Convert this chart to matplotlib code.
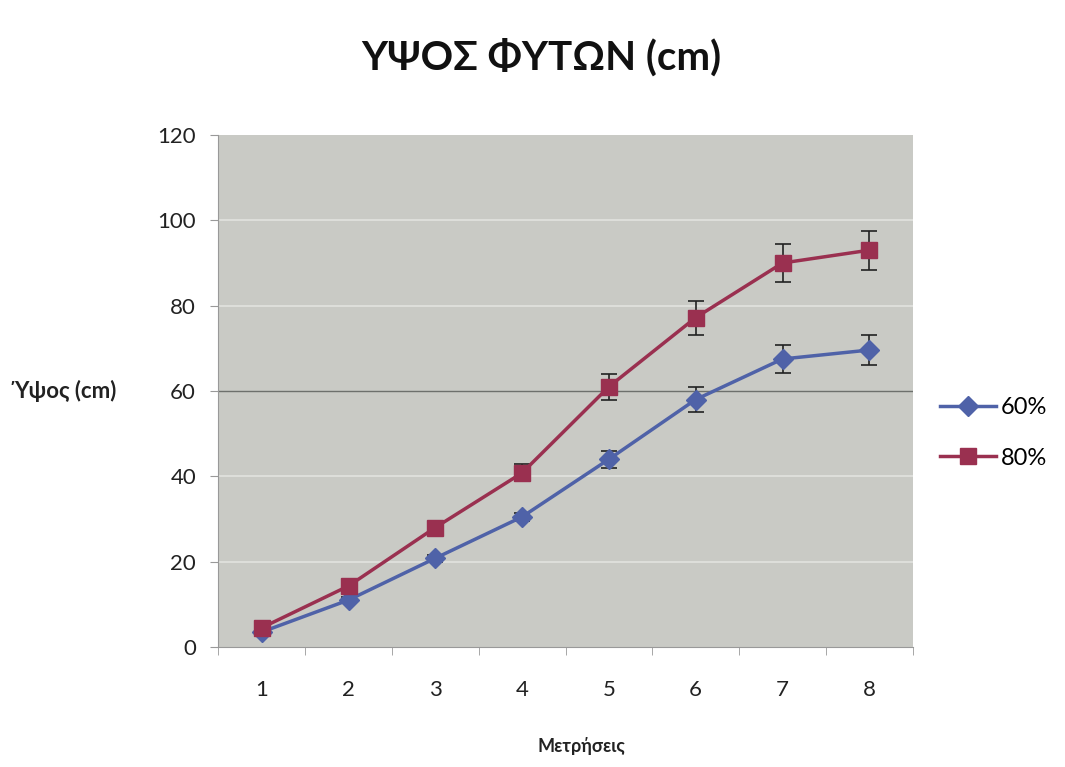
import numpy as np
import matplotlib.pyplot as plt
from matplotlib.lines import Line2D

# measurement index and mean plant height (cm) per treatment
measurements = [1, 2, 3, 4, 5, 6, 7, 8]
height_60 = [3.5, 11.0, 20.8, 30.5, 44.0, 58.0, 67.5, 69.6]
height_80 = [4.5, 14.3, 28.0, 40.8, 61.0, 77.2, 90.0, 93.0]
err_60 = [0.6, 0.8, 0.8, 1.0, 2.0, 3.0, 3.2, 3.5]
err_80 = [0.6, 0.8, 1.0, 2.0, 3.0, 4.0, 4.4, 4.6]
series_labels = ["60%", "80%"]

BLUE = "#4f62a8"
RED = "#9a3050"
FONT = ["Lato", "DejaVu Sans"]
plt.rcParams["font.family"] = FONT

fig = plt.figure(figsize=(10.65, 7.67), dpi=100)
ax = fig.add_axes([0.205, 0.1565, 0.652, 0.6675])
ax.set_facecolor("#c9cac5")

ax.errorbar(measurements, height_60, yerr=err_60, color=BLUE, lw=2.5,
            marker="D", ms=10, mfc=BLUE, mec=BLUE, ecolor="#222222",
            elinewidth=1.2, capsize=6, capthick=1.2, zorder=3)
ax.errorbar(measurements, height_80, yerr=err_80, color=RED, lw=2.5,
            marker="s", ms=12, mfc=RED, mec=RED, ecolor="#222222",
            elinewidth=1.2, capsize=6, capthick=1.2, zorder=4)

ax.set_xlim(0.5, 8.5)
ax.set_ylim(0, 120)
ax.set_yticks(range(0, 121, 20))
ax.set_xticks(measurements)
ax.set_xticks(np.arange(0.5, 9, 1), minor=True)
ax.tick_params(axis="x", which="major", length=0, pad=24, labelsize=16, colors="#222222")
ax.tick_params(axis="x", which="minor", length=6, color="#999999")
ax.tick_params(axis="y", length=6, color="#999999", pad=10, labelsize=16, labelcolor="#222222")

for y in [20, 40, 80, 100]:
    ax.axhline(y, color="#e2e3df", lw=1.2, zorder=1)
ax.axhline(60, color="#6d706c", lw=1.0, zorder=1)

for side in ["top", "right"]:
    ax.spines[side].set_visible(False)
ax.spines["left"].set_color("#999999")
ax.spines["bottom"].set_color("#999999")

fig.text(0.508, 0.925, "ΥΨΟΣ ΦΥΤΩΝ (cm)", ha="center", va="center",
         fontsize=29, fontweight="bold", color="#111111")
fig.text(0.062, 0.49, "Ύψος (cm)", ha="center", va="center", fontsize=16,
         fontweight="bold", color="#222222")
fig.text(0.546, 0.028, "Μετρήσεις", ha="center", va="center", fontsize=13,
         fontweight="bold", color="#222222")

handles = [
    Line2D([], [], color=BLUE, lw=2.5, marker="D", ms=10),
    Line2D([], [], color=RED, lw=2.5, marker="s", ms=12),
]
ax.legend(handles, series_labels, loc="center left", bbox_to_anchor=(1.025, 0.418),
          frameon=False, fontsize=17, handlelength=2.4, labelspacing=1.25,
          handletextpad=0.2, borderaxespad=0)

fig.savefig("out.png", dpi=100)
